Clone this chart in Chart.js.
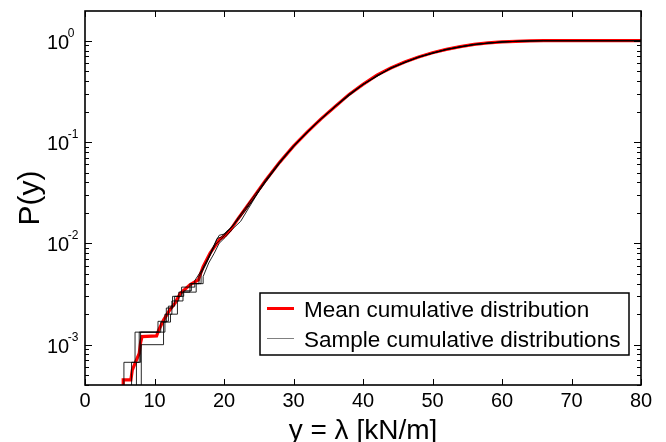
<!DOCTYPE html>
<html>
<head>
<meta charset="utf-8">
<script src="https://cdn.jsdelivr.net/npm/chart.js@4.4.1/dist/chart.umd.min.js"></script>
<style>
  html, body { margin: 0; padding: 0; background: #fff; }
  #wrap { width: 666px; height: 442px; }
</style>
</head>
<body>
<div id="wrap"><canvas id="cdfChart" width="666" height="442"></canvas></div>
<script>
const FONT = '"Liberation Sans", Arial, sans-serif';

// axis ticks
const xTicks = [0, 10, 20, 30, 40, 50, 60, 70, 80];
const yDecades = [-3, -2, -1, 0];

// mean cumulative distribution (red)
const meanX = [5.5, 5.5, 6.6, 6.8, 7.3, 7.8, 8.0, 8.2, 10.3, 10.6, 11.3, 12.2, 13.0, 13.7, 15.1, 16.3, 17.0, 18.0, 19.4, 20.0, 20.9, 22, 24, 26, 28, 30, 32, 34, 36, 38, 40, 42, 44, 46, 48, 50, 52, 54, 56, 58, 60, 62, 64, 66, 80];
const meanP = [4.0e-4, 4.5e-4, 4.5e-4, 5.6e-4, 6.8e-4, 8.2e-4, 1.05e-3, 1.2e-3, 1.22e-3, 1.39e-3, 1.75e-3, 2.2e-3, 2.6e-3, 3.2e-3, 3.9e-3, 4.35e-3, 5.9e-3, 8.0e-3, 1.1e-2, 1.17e-2, 1.35e-2, 1.74e-2, 2.7e-2, 4.2e-2, 6.3e-2, 9.1e-2, 0.126, 0.17, 0.224, 0.295, 0.37, 0.457, 0.537, 0.617, 0.69, 0.76, 0.82, 0.875, 0.918, 0.95, 0.973, 0.986, 0.995, 1.0, 1.0];

// sample cumulative distributions (black)
const s1X = [5.6, 5.6, 7.2, 7.2, 10.5, 10.5, 12.0, 12.0, 12.9, 12.9, 14.2, 14.2, 15.3, 15.3, 16.7, 16.7, 17.5, 18.3, 19.0, 19.6, 20.3, 21.1, 22.0, 23.0, 24.0, 25.0, 26.0, 28.0, 30.0, 32.0, 34.0, 36.0, 38.0, 40.0, 44.0, 48.0, 52.0, 56.0, 60.0, 64.0, 66.0, 80.0];
const s1P = [4.0e-4, 6.7e-4, 6.7e-4, 1.33e-3, 1.33e-3, 1.7e-3, 1.7e-3, 2.4e-3, 2.4e-3, 3.0e-3, 3.0e-3, 3.4e-3, 3.4e-3, 4.0e-3, 4.0e-3, 5.0e-3, 6.4e-3, 8.6e-3, 1.12e-2, 1.15e-2, 1.3e-2, 1.45e-2, 1.78e-2, 2.2e-2, 2.75e-2, 3.4e-2, 4.25e-2, 6.4e-2, 9.2e-2, 0.127, 0.171, 0.226, 0.297, 0.372, 0.54, 0.692, 0.822, 0.92, 0.974, 0.995, 1.0, 1.0];

const s2X = [6.7, 6.7, 7.8, 7.8, 11.5, 11.5, 12.5, 12.5, 13.5, 13.5, 15.1, 15.1, 16.4, 16.4, 17.2, 18.0, 18.8, 19.5, 20.5, 21.5, 22.5, 24, 26, 28, 30, 32, 34, 36, 40, 44, 48, 52, 56, 60, 64, 66, 80];
const s2P = [4.0e-4, 6.7e-4, 6.7e-4, 1.33e-3, 1.33e-3, 2.0e-3, 2.0e-3, 2.7e-3, 2.7e-3, 3.3e-3, 3.3e-3, 4.0e-3, 4.0e-3, 4.7e-3, 6.0e-3, 7.6e-3, 9.8e-3, 1.08e-2, 1.3e-2, 1.55e-2, 1.95e-2, 2.6e-2, 4.1e-2, 6.2e-2, 9.0e-2, 0.125, 0.169, 0.223, 0.369, 0.535, 0.688, 0.819, 0.917, 0.972, 0.995, 1.0, 1.0];

const s3X = [8.1, 8.1, 11.3, 11.3, 12.3, 12.3, 13.3, 13.3, 14.1, 14.1, 16.0, 16.0, 17.0, 17.0, 17.8, 18.6, 19.3, 20.2, 21.3, 22.4, 23.5, 25, 27, 29, 31, 33, 35, 37, 40, 44, 48, 52, 56, 60, 64, 66, 80];
const s3P = [4.0e-4, 1.0e-3, 1.0e-3, 1.67e-3, 1.67e-3, 2.0e-3, 2.0e-3, 2.7e-3, 2.7e-3, 3.3e-3, 3.3e-3, 4.0e-3, 4.0e-3, 4.7e-3, 6.4e-3, 8.0e-3, 1.0e-2, 1.15e-2, 1.4e-2, 1.65e-2, 2.2e-2, 3.25e-2, 5.0e-2, 7.6e-2, 0.106, 0.146, 0.195, 0.257, 0.37, 0.537, 0.69, 0.82, 0.918, 0.973, 0.995, 1.0, 1.0];

const s4X = [7.4, 7.4, 8.0, 8.0, 10.9, 10.9, 11.7, 11.7, 12.6, 12.6, 13.9, 13.9, 15.8, 15.8, 16.9, 17.7, 18.5, 19.3, 20.1, 21.0, 22.0, 23.2, 24.5, 26, 28, 30, 32, 34, 36, 38, 42, 46, 50, 54, 58, 62, 66, 80];
const s4P = [4.0e-4, 6.7e-4, 6.7e-4, 1.33e-3, 1.33e-3, 1.67e-3, 1.67e-3, 2.3e-3, 2.3e-3, 3.0e-3, 3.0e-3, 3.7e-3, 3.7e-3, 4.3e-3, 5.6e-3, 7.2e-3, 9.4e-3, 1.2e-2, 1.24e-2, 1.42e-2, 1.7e-2, 2.15e-2, 2.9e-2, 4.15e-2, 6.25e-2, 9.05e-2, 0.126, 0.17, 0.224, 0.295, 0.456, 0.616, 0.76, 0.875, 0.95, 0.986, 1.0, 1.0];

const samples = [[s1X, s1P], [s2X, s2P], [s3X, s3P], [s4X, s4P]];
const toPoints = (xs, ys) => xs.map((x, i) => ({ x: x, y: ys[i] }));

const datasets = [{
  label: 'Mean cumulative distribution',
  data: toPoints(meanX, meanP),
  borderColor: '#ff0000',
  borderWidth: 3.2,
  order: 2
}];
samples.forEach(([xs, ys], i) => {
  datasets.push({
    label: 'Sample ' + (i + 1),
    data: toPoints(xs, ys),
    borderColor: 'rgba(0,0,0,0.85)',
    borderWidth: 1,
    order: 1
  });
});

// frame, inward ticks, y labels with exponents, legend box
const decor = {
  id: 'decor',
  afterDraw(chart) {
    const { ctx, chartArea: a, scales: { x, y } } = chart;
    ctx.save();
    ctx.strokeStyle = '#000';
    ctx.lineWidth = 1;
    const seg = (x1, y1, x2, y2) => { ctx.beginPath(); ctx.moveTo(x1, y1); ctx.lineTo(x2, y2); ctx.stroke(); };

    xTicks.forEach(v => {
      const px = Math.round(x.getPixelForValue(v)) + 0.5;
      seg(px, a.bottom, px, a.bottom - 6);
      seg(px, a.top, px, a.top + 6);
    });
    for (let e = -4; e <= 0; e++) {
      for (let m = 1; m <= 9; m++) {
        const v = m * Math.pow(10, e);
        if (v < y.min || v > y.max) continue;
        const py = Math.round(y.getPixelForValue(v)) + 0.5;
        const len = m === 1 ? 7 : 4;
        seg(a.left, py, a.left + len, py);
        seg(a.right, py, a.right - len, py);
      }
    }

    ctx.lineWidth = 1.6;
    ctx.strokeRect(a.left, a.top, a.right - a.left, a.bottom - a.top);

    ctx.fillStyle = '#000';
    ctx.textAlign = 'left';
    ctx.textBaseline = 'alphabetic';
    yDecades.forEach(e => {
      const py = y.getPixelForValue(Math.pow(10, e));
      ctx.font = '20px ' + FONT;
      ctx.fillText('10', 47, py + 8);
      const w = ctx.measureText('10').width;
      ctx.font = '12px ' + FONT;
      ctx.fillText(String(e), 47 + w - 1.5, py - 4);
    });

    // legend
    const lx = 260, ly = 293, lw = 369, lh = 62;
    ctx.fillStyle = '#fff';
    ctx.fillRect(lx, ly, lw, lh);
    ctx.lineWidth = 1.5;
    ctx.strokeStyle = '#000';
    ctx.strokeRect(lx, ly, lw, lh);
    ctx.strokeStyle = '#ff0000';
    ctx.lineWidth = 3;
    seg(267, 308.5, 294, 308.5);
    ctx.strokeStyle = '#808080';
    ctx.lineWidth = 1;
    seg(267, 338.5, 294, 338.5);
    ctx.fillStyle = '#000';
    ctx.font = '22.5px ' + FONT;
    ctx.fillText('Mean cumulative distribution', 304, 316.5);
    ctx.fillText('Sample cumulative distributions', 304, 347);
    ctx.restore();
  }
};

new Chart(document.getElementById('cdfChart').getContext('2d'), {
  type: 'line',
  data: { datasets: datasets },
  options: {
    responsive: false,
    animation: false,
    devicePixelRatio: 1,
    layout: { padding: { top: 11, right: 25, left: 0, bottom: 0 } },
    elements: { point: { radius: 0 }, line: { tension: 0 } },
    plugins: { legend: { display: false }, tooltip: { enabled: false } },
    scales: {
      x: {
        type: 'linear',
        min: 0,
        max: 80,
        ticks: { stepSize: 10, color: '#000', font: { family: FONT, size: 20 }, padding: 4 },
        grid: { display: false, drawTicks: false },
        border: { display: false },
        title: { display: true, text: 'y = λ [kN/m]', color: '#000', font: { family: FONT, size: 28, lineHeight: 0.75 }, padding: 0 },
        afterFit: s => { s.height = 57; }
      },
      y: {
        type: 'logarithmic',
        min: 4e-4,
        max: 1.963,
        ticks: { display: false },
        grid: { display: false },
        border: { display: false },
        title: { display: true, text: 'P(y)', color: '#000', font: { family: FONT, size: 30 }, padding: { top: 13, bottom: 0 } },
        afterFit: s => { s.width = 85; }
      }
    }
  },
  plugins: [decor]
});
</script>
</body>
</html>
